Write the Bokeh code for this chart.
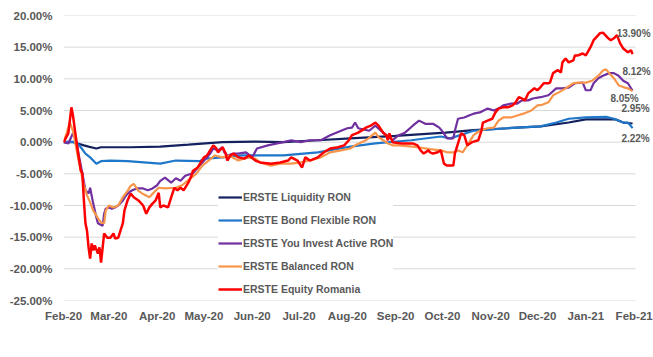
import pandas as pd
from bokeh.plotting import figure
from bokeh.models import (Range1d, FixedTicker, PrintfTickFormatter, DatetimeTickFormatter,
                          MonthsTicker, Legend, LegendItem, Label)
from bokeh.embed import file_html
from bokeh.resources import INLINE

START = pd.Timestamp("2020-02-01")

NAMES = ["ERSTE Liquidity RON", "ERSTE Bond Flexible RON", "ERSTE You Invest Active RON",
         "ERSTE Balanced RON", "ERSTE Equity Romania"]

# (days since 2020-02-01, performance in %)
LIQUIDITY = [(0, 0.0), (6, 0.0), (9, -0.2), (13, -0.5), (16, -0.7), (21, -1.0), (24, -0.8), (30, -0.8),
             (43, -0.8), (62, -0.7), (80, -0.4), (91, -0.2), (102, 0.0), (123, 0.1), (141, 0.0), (163, 0.3),
             (184, 0.6), (213, 1.0), (245, 1.5), (263, 1.9), (285, 2.2), (306, 2.5), (324, 3.1), (335, 3.6),
             (344, 3.6), (354, 3.6), (359, 3.1), (365, 2.95)]

BOND = [(0, 0.0), (4, 0.1), (8, 0.0), (11, -0.8), (14, -1.8), (17, -2.4), (21, -3.4), (24, -3.0), (30, -2.9),
        (41, -3.0), (62, -3.4), (72, -2.9), (87, -3.0), (91, -2.6), (102, -2.4), (115, -2.1), (123, -2.1),
        (141, -2.1), (163, -1.6), (184, -0.7), (200, -0.2), (223, 0.3), (242, 0.9), (248, 0.6), (263, 1.8),
        (285, 2.2), (306, 2.5), (316, 3.1), (324, 3.7), (335, 3.9), (348, 4.0), (353, 3.7), (359, 3.1),
        (362, 3.1), (365, 2.22)]

YOU_INVEST = [(0, 0.0), (3, -0.2), (6, 1.4), (8, 0.3), (10, -2.4), (12, -4.9), (14, -7.6), (16, -8.1),
              (17, -7.2), (19, -9.7), (21, -11.9), (22, -12.8), (25, -13.2), (26, -11.3), (27, -10.5),
              (29, -10.3), (31, -10.5), (33, -10.3), (35, -10.0), (38, -9.2), (40, -8.4), (42, -7.9),
              (44, -7.6), (47, -7.3), (51, -7.3), (54, -7.6), (57, -7.3), (60, -6.8), (62, -6.1), (65, -5.6),
              (69, -6.4), (72, -5.7), (75, -6.1), (78, -5.3), (83, -4.9), (86, -4.0), (89, -3.2), (92, -2.4),
              (94, -1.8), (96, -1.0), (99, -1.3), (102, -0.8), (103, -1.6), (105, -2.1), (109, -1.8),
              (112, -1.8), (117, -1.6), (121, -2.4), (124, -1.0), (131, -0.5), (137, -0.2), (141, 0.0),
              (146, 0.3), (152, 0.0), (158, 0.3), (165, 0.3), (171, 1.1), (178, 1.8), (182, 2.2), (185, 2.3),
              (187, 3.1), (189, 2.2), (196, 1.8), (200, 2.6), (205, 1.5), (207, 1.1), (211, 0.3), (215, 1.1),
              (219, 1.5), (224, 2.6), (228, 3.4), (232, 2.9), (237, 2.9), (241, 2.3), (243, 1.7), (246, 0.6),
              (250, 0.6), (251, 1.8), (253, 3.7), (257, 3.9), (260, 4.2), (263, 4.5), (267, 4.7), (272, 5.3),
              (276, 5.0), (279, 5.3), (282, 5.8), (287, 6.1), (291, 6.1), (294, 6.6), (298, 6.6), (301, 6.9),
              (306, 7.1), (311, 7.4), (316, 8.5), (320, 8.5), (324, 8.6), (328, 9.3), (333, 9.4), (335, 8.2),
              (338, 8.2), (340, 9.3), (343, 10.1), (346, 10.5), (350, 10.9), (353, 10.9), (356, 10.5),
              (359, 9.7), (362, 9.3), (365, 8.12)]

BALANCED = [(0, 0.0), (2, 1.5), (4, 3.1), (6, 1.8), (9, -2.1), (11, -4.5), (13, -6.8), (15, -8.4), (17, -9.5),
            (19, -10.8), (22, -12.0), (24, -12.7), (26, -12.8), (27, -10.8), (29, -10.0), (32, -10.3),
            (35, -10.0), (38, -8.7), (41, -7.7), (43, -6.9), (45, -6.6), (48, -7.7), (51, -8.2), (55, -8.7),
            (58, -7.9), (61, -7.2), (65, -7.3), (72, -7.2), (76, -6.8), (80, -6.0), (85, -5.0), (89, -3.7),
            (93, -2.9), (97, -2.1), (102, -2.4), (106, -2.1), (112, -2.9), (118, -2.4), (123, -2.6),
            (126, -3.2), (133, -3.7), (139, -3.4), (146, -3.4), (152, -3.2), (158, -2.9), (165, -2.4),
            (171, -1.6), (178, -1.3), (184, -1.0), (187, -0.5), (194, 0.3), (198, 1.1), (200, 1.5), (202, 0.8),
            (205, 0.3), (208, -0.2), (211, -0.5), (215, -0.5), (224, -0.7), (227, -0.8), (235, -1.1),
            (242, -1.3), (246, -1.6), (250, -1.6), (253, -1.3), (256, -1.6), (259, -0.5), (263, 1.1),
            (267, 1.8), (272, 2.2), (276, 2.3), (279, 3.4), (282, 3.9), (287, 3.9), (291, 4.2), (295, 4.5),
            (300, 5.0), (304, 5.8), (307, 5.9), (311, 6.3), (314, 7.4), (318, 7.9), (322, 8.5), (327, 9.3),
            (330, 9.4), (335, 9.4), (339, 9.7), (343, 10.5), (346, 11.3), (348, 11.5), (350, 10.9),
            (353, 10.1), (356, 9.0), (359, 8.7), (362, 8.5), (365, 8.05)]

EQUITY = [(0, 0.0), (3, 1.4), (5, 5.5), (6, 4.2), (9, -1.3), (11, -4.5), (12, -4.9), (13, -9.2), (14, -12.8),
          (15, -14.0), (16, -16.6), (17, -18.4), (18, -16.0), (19, -17.1), (20, -16.3), (22, -17.6),
          (23, -16.6), (24, -19.0), (26, -14.4), (28, -15.1), (30, -15.1), (32, -14.4), (33, -15.2),
          (35, -15.1), (38, -12.8), (39, -10.8), (41, -9.2), (43, -8.1), (45, -8.7), (48, -9.2), (51, -10.0),
          (53, -11.3), (55, -10.3), (57, -9.7), (59, -9.2), (61, -8.0), (62, -10.3), (64, -10.0), (67, -10.3),
          (69, -8.7), (71, -7.2), (73, -7.6), (75, -7.2), (77, -7.6), (80, -6.4), (82, -5.3), (83, -4.5),
          (86, -4.0), (88, -3.2), (90, -2.4), (92, -2.1), (96, -0.5), (98, -1.0), (99, -1.6), (102, -0.8),
          (104, -1.8), (105, -2.9), (107, -2.1), (109, -1.8), (112, -2.4), (116, -2.6), (119, -2.1),
          (123, -2.9), (126, -3.2), (133, -3.4), (139, -3.2), (144, -2.9), (146, -2.4), (150, -2.9),
          (153, -4.0), (155, -2.4), (158, -2.9), (163, -2.4), (167, -1.6), (171, -1.0), (176, -0.8),
          (180, -0.5), (183, 0.3), (185, 1.1), (189, 1.5), (194, 2.3), (197, 2.6), (200, 3.1), (202, 2.6),
          (205, 1.5), (207, 1.1), (208, 0.3), (209, 1.4), (211, 0.0), (217, -0.2), (224, -0.2), (227, -0.5),
          (229, -1.3), (231, -1.8), (234, -1.3), (235, -1.6), (237, -1.8), (240, -1.6), (242, -1.3),
          (244, -3.4), (246, -3.7), (250, -3.7), (251, -1.8), (255, 1.4), (257, 1.1), (259, -0.5), (262, 0.0),
          (266, 0.3), (268, 1.8), (269, 3.1), (272, 3.4), (275, 3.7), (277, 4.7), (279, 5.3), (282, 5.5),
          (285, 5.5), (288, 5.8), (290, 6.3), (292, 7.1), (294, 6.9), (296, 6.6), (298, 7.7), (302, 8.5),
          (304, 8.2), (306, 8.7), (308, 9.3), (311, 9.3), (312, 9.4), (314, 10.9), (317, 11.4), (319, 11.0),
          (320, 12.6), (322, 13.2), (324, 12.6), (327, 12.9), (328, 13.7), (330, 13.7), (333, 14.0),
          (335, 13.7), (338, 15.0), (340, 16.1), (343, 16.9), (344, 17.2), (346, 17.3), (349, 16.5),
          (351, 16.1), (353, 16.4), (355, 16.9), (357, 15.6), (359, 14.8), (362, 14.2), (364, 14.5),
          (365, 13.9)]

SERIES = [LIQUIDITY, BOND, YOU_INVEST, BALANCED, EQUITY]
COLORS = ["#14215E", "#1F77C9", "#7030A0", "#F7964A", "#FF0000"]
WIDTHS = [2.2, 2.2, 2.2, 2.2, 2.5]
# end-label offsets (pixels) relative to the last point
LABEL_OFFSETS = [(3, 15), (3, -10), (4, 19), (-8, -7), (1, 21)]

Y_TICKS = [-25, -20, -15, -10, -5, 0, 5, 10, 15, 20]

AXIS_START = START - pd.Timedelta(hours=2)
AXIS_END = pd.Timestamp("2021-02-01 21:00")      # end of the plot area (gridlines)
VIEW_END = pd.Timestamp("2021-02-13 10:00")      # extra room on the right for the data labels

FONT = "Liberation Sans"
GREY = "#595959"

p = figure(width=653, height=357, output_backend="svg", toolbar_location=None, title=None,
           x_axis_type="datetime",
           x_range=Range1d(AXIS_START, VIEW_END),
           y_range=Range1d(-25, 20),
           min_border_left=63, min_border_right=0, min_border_top=15, min_border_bottom=57)

p.outline_line_color = None
p.background_fill_color = "white"
p.xgrid.visible = False
p.ygrid.visible = False

# horizontal gridlines limited to the plot area
p.segment(x0=[AXIS_START] * len(Y_TICKS), x1=[AXIS_END] * len(Y_TICKS), y0=Y_TICKS, y1=Y_TICKS,
          line_color="#D9D9D9", line_width=1)

p.yaxis.ticker = FixedTicker(ticks=Y_TICKS)
p.yaxis.formatter = PrintfTickFormatter(format="%.2f%%")
p.xaxis.ticker = MonthsTicker(months=list(range(12)))
p.xaxis.formatter = DatetimeTickFormatter(months="%b-%y", days="%b-%y")

for ax in (p.xaxis[0], p.yaxis[0]):
    ax.axis_line_color = None
    ax.major_tick_line_color = None
    ax.minor_tick_line_color = None
    ax.major_tick_out = 0
    ax.minor_tick_out = 0
    ax.major_label_text_font = FONT
    ax.major_label_text_font_size = "11.5px"
    ax.major_label_text_font_style = "bold"
    ax.major_label_text_color = GREY
p.xaxis.major_label_standoff = 9
p.yaxis.major_label_standoff = 11

items = []
for name, pts, color, lw, (dx, dy) in zip(NAMES, SERIES, COLORS, WIDTHS, LABEL_OFFSETS):
    days, vals = zip(*pts)
    dates = START + pd.to_timedelta(list(days), unit="D")
    r = p.line(dates, list(vals), line_color=color, line_width=lw)
    items.append(LegendItem(label=name, renderers=[r]))
    end_x = dates[-1].timestamp() * 1000.0
    p.add_layout(Label(x=end_x, y=vals[-1], x_offset=dx, y_offset=dy, text=f"{vals[-1]:.2f}%",
                       text_align="center", text_baseline="middle", text_font=FONT,
                       text_font_size="10px", text_font_style="bold", text_color=GREY))

legend = Legend(items=items, location=(155, 2), margin=0, padding=5, spacing=5,
                label_height=18, glyph_height=18, glyph_width=24, label_standoff=1,
                border_line_color=None, background_fill_color="white", background_fill_alpha=1.0,
                label_text_font=FONT, label_text_font_size="10.5px", label_text_font_style="bold",
                label_text_color=GREY)
p.add_layout(legend)

open("out.html", "w").write(file_html(p, INLINE))
